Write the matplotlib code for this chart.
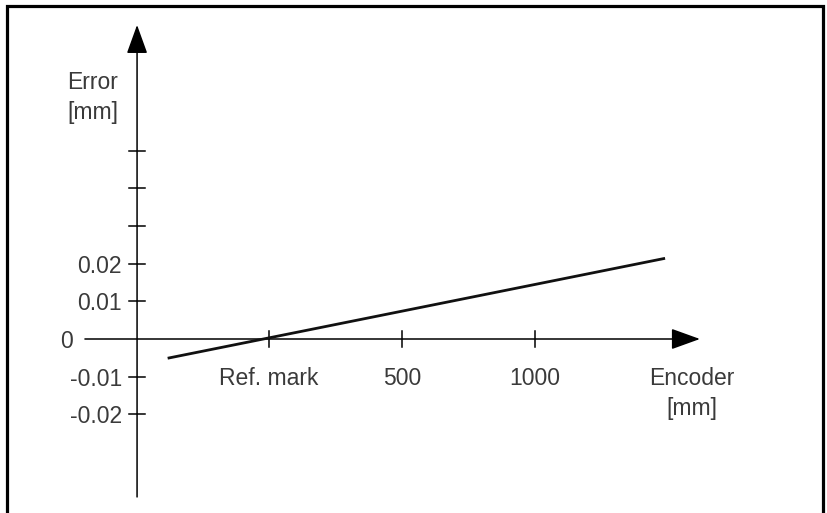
import matplotlib.pyplot as plt
from matplotlib.patches import FancyArrowPatch, Rectangle

# Data
encoder = [-381, 1489]          # mm, relative to reference mark
error = [-0.0051, 0.0214]       # mm

x_ticks = [0, 500, 1000]
x_tick_labels = ["Ref. mark", "500", "1000"]
y_ticks = [-0.02, -0.01, 0.0, 0.01, 0.02, 0.03, 0.04, 0.05]
y_tick_labels = ["-0.02", "-0.01", "", "0.01", "0.02", "", "", ""]

# Axis extents (data units)
y_axis_x = -496
x_axis_range = (-692, 1620)
y_axis_range = (-0.0419, 0.0833)

W, H, DPI = 828, 513, 100
PX_PER_MM = 133 / 500
PX_PER_UNIT = 3770
X0_PX, Y0_PX = 269, 339

text_kw = dict(fontsize=16.5, color="#3a3a3a", family="Liberation Sans")

fig = plt.figure(figsize=(W / DPI, H / DPI), dpi=DPI)
ax = fig.add_axes([0, 0, 1, 1])
ax.set_xlim(-X0_PX / PX_PER_MM, (W - X0_PX) / PX_PER_MM)
ax.set_ylim((Y0_PX - H) / PX_PER_UNIT, Y0_PX / PX_PER_UNIT)
ax.axis("off")

# Outer frame (bottom edge runs off the picture)
fig.patches.append(Rectangle((7.5 / W, -0.05), (823 - 7.5) / W, 1.05 - 6.5 / H,
                             transform=fig.transFigure, fill=False,
                             edgecolor="black", linewidth=2.3))

# Axes with arrow heads
arrow_style = "-|>,head_length=18,head_width=6.5"
ax.add_patch(FancyArrowPatch((x_axis_range[0], 0), (x_axis_range[1], 0),
                             arrowstyle=arrow_style, mutation_scale=1,
                             color="black", linewidth=1.1,
                             shrinkA=0, shrinkB=0))
ax.add_patch(FancyArrowPatch((y_axis_x, y_axis_range[0]), (y_axis_x, y_axis_range[1]),
                             arrowstyle=arrow_style, mutation_scale=1,
                             color="black", linewidth=1.1,
                             shrinkA=0, shrinkB=0))

# Ticks
tick_dx = 8 / PX_PER_MM
tick_dy = 8 / PX_PER_UNIT
for yt, lab in zip(y_ticks, y_tick_labels):
    if yt != 0:
        ax.plot([y_axis_x - tick_dx, y_axis_x + tick_dx], [yt, yt],
                color="black", linewidth=1.1)
    if lab:
        ax.text(y_axis_x - 15 / PX_PER_MM, yt, lab, ha="right",
                va="center_baseline", **text_kw)
ax.text(x_axis_range[0] - 12 / PX_PER_MM, 0, "0", ha="right",
        va="center_baseline", **text_kw)

for xt, lab in zip(x_ticks, x_tick_labels):
    ax.plot([xt, xt], [-tick_dy, tick_dy], color="black", linewidth=1.1)
    ax.text(xt, -37 / PX_PER_UNIT, lab, ha="center",
            va="center_baseline", **text_kw)

# Axis titles
ax.text(y_axis_x - 19 / PX_PER_MM, 0.0686, "Error", ha="right",
        va="center_baseline", **text_kw)
ax.text(y_axis_x - 19 / PX_PER_MM, 0.0608, "[mm]", ha="right",
        va="center_baseline", **text_kw)
ax.text(1588, -37 / PX_PER_UNIT, "Encoder", ha="center",
        va="center_baseline", **text_kw)
ax.text(1588, -67 / PX_PER_UNIT, "[mm]", ha="center",
        va="center_baseline", **text_kw)

# Error curve
ax.plot(encoder, error, color="#111111", linewidth=2.0, solid_capstyle="butt")

fig.savefig("out.png", dpi=DPI)
